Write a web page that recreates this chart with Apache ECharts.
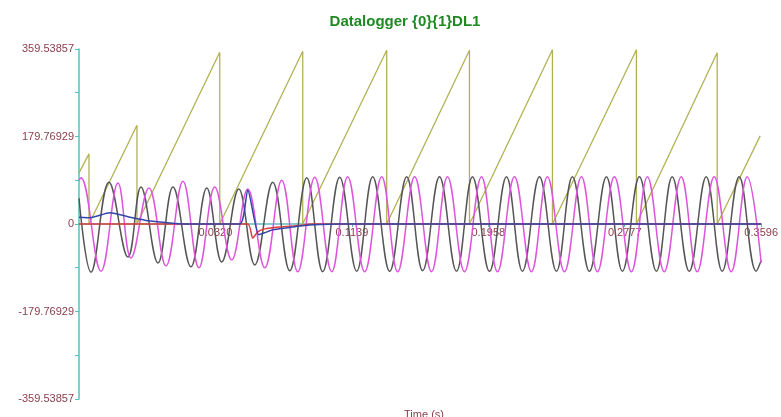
<!DOCTYPE html>
<html>
<head>
<meta charset="utf-8">
<script src="https://cdn.jsdelivr.net/npm/echarts@6/dist/echarts.min.js"></script>
<style>
  html, body { margin: 0; padding: 0; background: #fff; }
  #chart { width: 781px; height: 417px; }
</style>
</head>
<body>
<div id="chart"></div>
<script>
// Axis ticks and labels
const xLabelValues = [0.0320, 0.1139, 0.1958, 0.2777, 0.3596];
const yTickValues = [-359.53857, -269.65393, -179.76929, -89.88464, 0, 89.88464, 179.76929, 269.65393, 359.53857];
const yLabelValues = [-359.53857, -179.76929, 0, 179.76929, 359.53857];
const yLabelTexts = ['-359.53857', '-179.76929', '0', '179.76929', '359.53857'];

// Recorded channels: [time (s), value]
const phaseAngle = [
  [-0.0499, 105], [-0.0439, 144], [-0.0439, 0],
  [-0.0151, 203], [-0.0151, 0],
  [0.0346, 353], [0.0346, 0],
  [0.0844, 355], [0.0844, 0],
  [0.1348, 357], [0.1348, 0],
  [0.1845, 357], [0.1845, 0],
  [0.2343, 358], [0.2343, 0],
  [0.2847, 358], [0.2847, 0],
  [0.3332, 352], [0.3332, 0],
  [0.3590, 181]
];

const voltageA = [
  [-0.0499, 53], [-0.0427, -99], [-0.0319, 86], [-0.0205, -68], [-0.0127, 76],
  [-0.0025, -80], [0.0065, 76], [0.0173, -88], [0.0268, 74], [0.0358, -78],
  [0.0460, 72], [0.0556, -84], [0.0664, 86], [0.0766, -96], [0.0868, 95],
  [0.0964, -98], [0.1066, 96], [0.1168, -97], [0.1264, 97], [0.1366, -97],
  [0.1468, 97], [0.1564, -96], [0.1665, 97], [0.1767, -97], [0.1863, 97],
  [0.1965, -97], [0.2067, 97], [0.2163, -97], [0.2265, 97], [0.2367, -97],
  [0.2463, 97], [0.2565, -97], [0.2667, 97], [0.2763, -97], [0.2865, 97],
  [0.2967, -97], [0.3062, 97], [0.3164, -97], [0.3266, 97], [0.3362, -97],
  [0.3464, 97], [0.3566, -97], [0.3596, -75]
];

const voltageB = [
  [-0.0499, 90], [-0.0487, 95], [-0.0367, -97], [-0.0265, 84], [-0.0187, -70],
  [-0.0079, 74], [0.0023, -86], [0.0125, 88], [0.0221, -90], [0.0316, 76],
  [0.0418, -74], [0.0514, 72], [0.0616, -90], [0.0718, 90], [0.0814, -98],
  [0.0916, 96], [0.1018, -98], [0.1114, 97], [0.1216, -98], [0.1318, 97],
  [0.1414, -98], [0.1516, 97], [0.1617, -98], [0.1713, 97], [0.1815, -98],
  [0.1917, 97], [0.2013, -98], [0.2115, 97], [0.2217, -98], [0.2313, 97],
  [0.2415, -98], [0.2517, 97], [0.2613, -98], [0.2715, 97], [0.2817, -98],
  [0.2913, 97], [0.3014, -98], [0.3116, 97], [0.3212, -98], [0.3314, 97],
  [0.3416, -98], [0.3512, 97], [0.3596, -80]
];

const currentRed = [
  [-0.0499, 0], [0.0514, 0], [0.0544, -29], [0.0574, -16], [0.0616, -10],
  [0.0706, -6], [0.0826, -3], [0.0900, 0], [0.3596, 0]
];

const currentBlue = [
  [-0.0499, 14], [-0.0433, 13], [-0.0313, 23], [-0.0193, 14], [-0.0073, 6],
  [0.0047, 2], [0.0137, 0], [0.0466, 0], [0.0514, 70], [0.0580, -22],
  [0.0616, -18], [0.0664, -12], [0.0766, -7], [0.0826, -4], [0.0946, -1],
  [0.1066, 0], [0.3596, 0]
];

const labelColor = '#8a3d4b';
const axisColor = '#5fbcbc';
const font = 'Arial, "Liberation Sans", sans-serif';

// Plot area geometry (pixels)
const gridTop = 49, gridBottom = 18, chartHeight = 417;
// The time axis is drawn across the middle, where the value axis crosses zero
const timeAxisOffset = -((chartHeight - gridBottom - gridTop) / 2);

const chart = echarts.init(document.getElementById('chart'), null, { renderer: 'canvas' });

function line(name, data, color, width, smooth, z) {
  return {
    name, type: 'line', data, smooth, showSymbol: false, z,
    lineStyle: { color, width },
    itemStyle: { color },
    emphasis: { disabled: true }
  };
}

chart.setOption({
  animation: false,
  backgroundColor: '#ffffff',
  title: [
    {
      text: 'Datalogger {0}{1}DL1',
      left: 400, top: 9, textAlign: 'center',
      textStyle: { color: '#1f8a22', fontSize: 15, fontWeight: 'bold', fontFamily: font }
    },
    {
      text: 'Time (s)',
      left: 419, top: 404, textAlign: 'center',
      textStyle: { color: labelColor, fontSize: 11, fontWeight: 'normal', fontFamily: font }
    }
  ],
  grid: { left: 79, right: 19, top: gridTop, bottom: gridBottom, containLabel: false },
  xAxis: {
    type: 'value',
    min: -0.0499, max: 0.3596,
    position: 'bottom',
    offset: timeAxisOffset,
    axisLine: { onZero: false, lineStyle: { color: axisColor, width: 1.5 } },
    axisTick: { show: true, length: 3, customValues: xLabelValues, lineStyle: { color: axisColor } },
    axisLabel: {
      customValues: xLabelValues,
      formatter: v => v.toFixed(4),
      color: labelColor, fontSize: 11, fontFamily: font, margin: 3
    },
    splitLine: { show: false }
  },
  yAxis: {
    type: 'value',
    min: -359.53857, max: 359.53857,
    axisLine: { show: true, onZero: false, lineStyle: { color: axisColor, width: 1.5 } },
    axisTick: { show: true, length: 4, customValues: yTickValues, lineStyle: { color: axisColor } },
    axisLabel: {
      customValues: yLabelValues,
      formatter: v => {
        const i = yLabelValues.findIndex(y => Math.abs(y - v) < 1e-3);
        return i >= 0 ? yLabelTexts[i] : '';
      },
      color: labelColor, fontSize: 11, fontFamily: font, margin: 5
    },
    splitLine: { show: false }
  },
  series: [
    line('Angle', phaseAngle, '#b2b255', 1.3, false, 2),
    line('Va', voltageA, '#555555', 1.5, 0.4, 3),
    line('Vb', voltageB, '#dd55dd', 1.5, 0.4, 4),
    line('Ir', currentRed, '#e03a3a', 1.5, 0.2, 5),
    line('Ib', currentBlue, '#3445a8', 1.5, 0.2, 6)
  ]
});
</script>
</body>
</html>
